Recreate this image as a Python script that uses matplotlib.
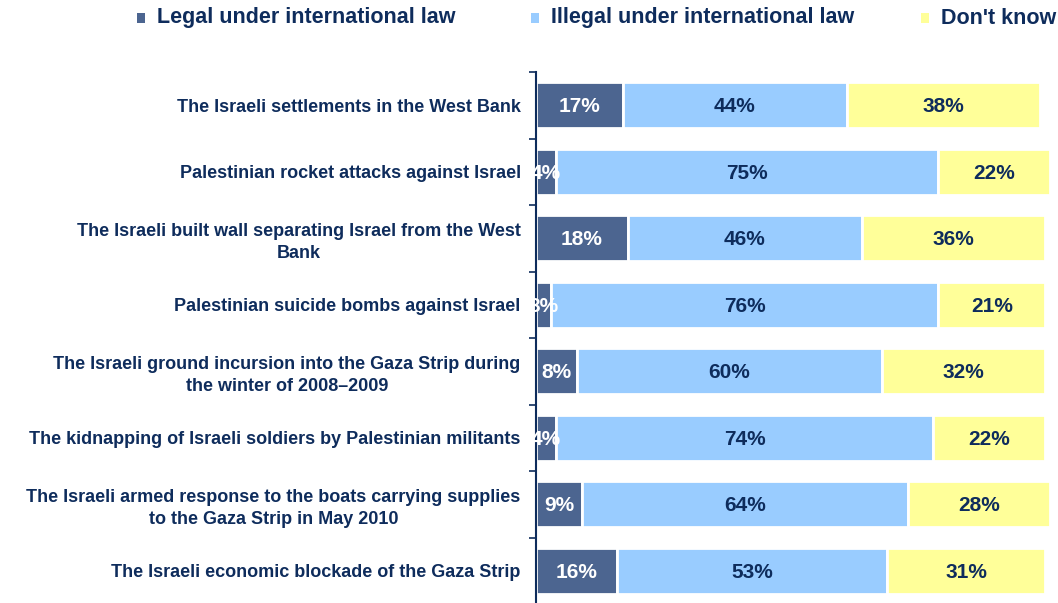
import matplotlib
matplotlib.use("Agg")
import matplotlib.pyplot as plt
from matplotlib.patches import Rectangle
import numpy as np

plt.rcParams['font.family'] = ['Liberation Sans', 'DejaVu Sans']
plt.rcParams['font.weight'] = 'bold'

categories = [
    "The Israeli settlements in the West Bank",
    "Palestinian rocket attacks against Israel",
    "The Israeli built wall separating Israel from the West\nBank",
    "Palestinian suicide bombs against Israel",
    "The Israeli ground incursion into the Gaza Strip during\nthe winter of 2008\u20132009",
    "The kidnapping of Israeli soldiers by Palestinian militants",
    "The Israeli armed response to the boats carrying supplies\nto the Gaza Strip in May 2010",
    "The Israeli economic blockade of the Gaza Strip",
]
legal = [17, 4, 18, 3, 8, 4, 9, 16]
illegal = [44, 75, 46, 76, 60, 74, 64, 53]
dont_know = [38, 22, 36, 21, 32, 22, 28, 31]

series_names = ["Legal under international law", "Illegal under international law", "Don't know"]
series_colors = ["#4C6590", "#99CCFF", "#FFFF99"]
label_colors = ["white", "#0E2C5C", "#0E2C5C"]
navy = "#0E2C5C"

fig = plt.figure(figsize=(10.58, 6.03), dpi=100)
ax = fig.add_axes([536 / 1058, -1 / 603, 522 / 1058, 532 / 603])

y = np.arange(len(categories))
left = np.zeros(len(categories))
for vals, color, tcol in zip([legal, illegal, dont_know], series_colors, label_colors):
    vals = np.array(vals, dtype=float)
    ax.barh(y, vals, left=left, height=0.69, color=color, edgecolor="white", linewidth=2)
    for yi, l, v in zip(y, left, vals):
        ax.text(l + v / 2, yi + 0.02, f"{int(v)}%", ha="center", va="center",
                color=tcol, fontsize=15, fontweight="bold")
    left += vals

ax.set_xlim(0, 102.5)
ax.set_ylim(len(categories) - 0.5, -0.5)
ax.set_yticks(y)
ax.set_yticklabels(categories, fontsize=13, fontweight="bold", color=navy)
for lbl in ax.get_yticklabels():
    lbl.set_multialignment("center")
    lbl.set_linespacing(1.35)
ax.tick_params(axis="y", which="major", length=0, pad=11)
ax.set_yticks(np.arange(-0.5, len(categories)), minor=True)
ax.tick_params(axis="y", which="minor", length=5, width=1.2, color=navy)
ax.set_xticks([])
for s in ["top", "right", "bottom"]:
    ax.spines[s].set_visible(False)
ax.spines["left"].set_color(navy)
ax.spines["left"].set_linewidth(1.5)

# legend across the top
legend_x = [137, 531, 921]
for name, color, lx in zip(series_names, series_colors, legend_x):
    fig.patches.append(Rectangle((lx / 1058, 1 - 23 / 603), 8 / 1058, 10 / 603,
                                 transform=fig.transFigure, facecolor=color,
                                 edgecolor="none"))
    fig.text((lx + 20) / 1058, 1 - 18 / 603, name, ha="left", va="center",
             fontsize=15.5, fontweight="bold", color=navy)

fig.savefig("out.png", dpi=100)
